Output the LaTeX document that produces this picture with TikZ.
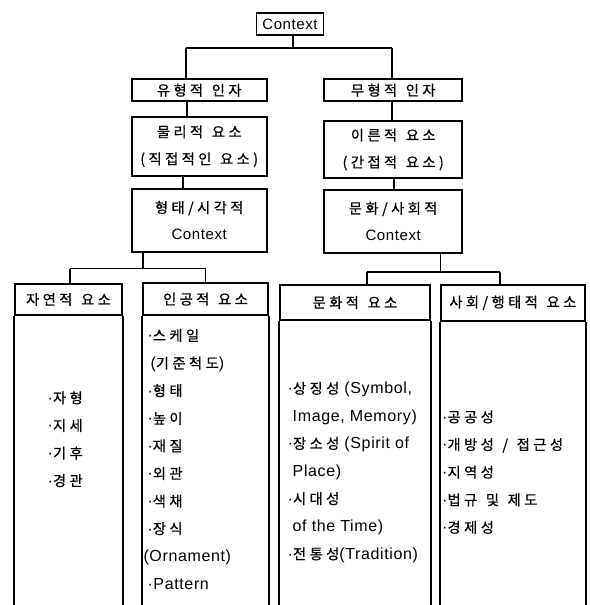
\documentclass[tikz,border=0pt]{standalone}
\usepackage{fontspec}
\setmainfont{Liberation Sans}[LetterSpace=4]
\newfontfamily\krfont{Noto Sans CJK KR}[LetterSpace=24,WordSpace=1.3,FakeBold=0.6]
\newcommand\K[1]{{\krfont\fontsize{14.3}{27.4}\selectfont #1}}
\begin{document}
\begin{tikzpicture}[x=1pt,y=-1pt,
  box/.style={draw,line width=1.8pt,inner sep=0pt,align=center,font=\fontsize{15}{27}\selectfont},
  list/.style={inner sep=0pt,align=left,anchor=west,font=\fontsize{16}{27.6}\selectfont},
  conn/.style={line width=1.8pt}]
\useasboundingbox[fill=white] (0,0) rectangle (589,605);
% top level
\node[box,minimum width=67pt,minimum height=22pt] (ctx) at (290,24) {Context};
\node[box,minimum width=135pt,minimum height=21.7pt] (yu) at (199.2,90.2) {\K{유형적 인자}};
\node[box,minimum width=138.3pt,minimum height=21.7pt] (mu) at (393.2,90.2) {\K{무형적 인자}};
\node[box,minimum width=135pt,minimum height=59pt] (mul) at (199.2,146.2) {\K{물리적 요소}\\\K{(직접적인 요소)}};
\node[box,minimum width=138.3pt,minimum height=57.6pt] (ir) at (393.2,149.5) {\K{이른적 요소}\\\K{(간접적 요소)}};
\node[box,minimum width=135pt,minimum height=62.4pt] (hy) at (199.2,220.5) {\K{형태/시각적}\\Context};
\node[box,minimum width=138.3pt,minimum height=62.7pt] (mh) at (393.2,221.3) {\K{문화/사회적}\\Context};
% bottom headers
\node[box,minimum width=107pt,minimum height=31pt] (nat) at (68.5,299.5) {\K{자연적 요소}};
\node[box,minimum width=125.6pt,minimum height=31.7pt] (art) at (205.5,299.2) {\K{인공적 요소}};
\node[box,minimum width=150pt,minimum height=35pt] (cul) at (355,302.5) {\K{문화적 요소}};
\node[box,minimum width=144.3pt,minimum height=35.7pt] (soc) at (512.8,302.8) {\K{사회/행태적 요소}};
% connectors
\coordinate (j0) at (292.7,48.3);
\coordinate (jl) at (185.7,48.3);
\coordinate (jr) at (391.7,48.3);
\draw[conn] (ctx.south -| j0) -- (j0);
\draw[conn] (jl) -- (jr);
\draw[conn] (jl) -- (jl |- yu.north);
\draw[conn] (jr) -- (jr |- mu.north);
\coordinate (c1) at (186.7,0);
\coordinate (c2) at (391.7,0);
\coordinate (c3) at (182.7,0);
\coordinate (c4) at (394,0);
\draw[conn] (yu.south -| c1) -- (mul.north -| c1);
\draw[conn] (mu.south -| c2) -- (ir.north -| c2);
\draw[conn] (mul.south -| c3) -- (hy.north -| c3);
\draw[conn] (ir.south -| c4) -- (mh.north -| c4);
\coordinate (k0) at (143.3,268.5);
\coordinate (kl) at (70,268.5);
\coordinate (kr) at (205.5,268.5);
\draw[conn] (hy.south -| k0) -- (k0);
\draw[conn] (kl) -- (kr);
\draw[conn] (kl) -- (kl |- nat.north);
\draw[conn] (kr) -- (kr |- art.north);
\coordinate (m0) at (440.5,272.3);
\coordinate (ml) at (366.7,272.3);
\coordinate (mr) at (500,272.3);
\draw[conn] (mh.south -| m0) -- (m0);
\draw[conn] (ml) -- (mr);
\draw[conn] (ml) -- (ml |- cul.north);
\draw[conn] (mr) -- (mr |- soc.north);
% open-bottom columns
\coordinate (bot) at (0,606);
\foreach \n in {nat,art,cul,soc}{
  \draw[conn] (\n.south west) -- (\n.south west |- bot);
  \draw[conn] (\n.south east) -- (\n.south east |- bot);
}
% lists
\node[list] (natl) at (47.5,439.2) {·\K{자형}\\·\K{지세}\\·\K{기후}\\·\K{경관}};
\node[list] (artl) at (143.3,459.2) {\hspace{4pt}·\K{스케일}\\\hspace{7pt}(\K{기준척도})\\\hspace{4pt}·\K{형태}\\\hspace{4pt}·\K{높이}\\\hspace{4pt}·\K{재질}\\\hspace{4pt}·\K{외관}\\\hspace{4pt}·\K{색채}\\\hspace{4pt}·\K{장식}\\(Ornament)\\\hspace{4pt}·Pattern};
\node[list] (cull) at (287.5,472.2) {·\K{상징성} (Symbol,\\\hspace{5pt}Image, Memory)\\·\K{장소성} (Spirit of\\\hspace{5pt}Place)\\·\K{시대성}\\\hspace{5pt}of the Time)\\·\K{전통성}(Tradition)};
\node[list] (socl) at (442,472.2) {·\K{공공성}\\·\K{개방성 / 접근성}\\·\K{지역성}\\·\K{법규 및 제도}\\·\K{경제성}};
\end{tikzpicture}
\end{document}
